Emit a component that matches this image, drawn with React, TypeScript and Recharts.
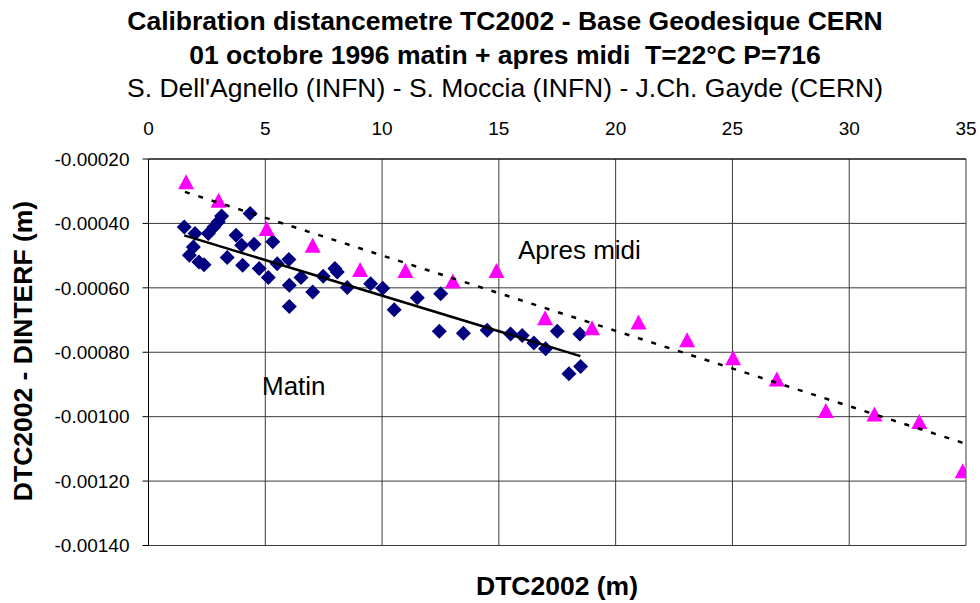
import { ScatterChart, Scatter, XAxis, YAxis, CartesianGrid } from 'recharts';

// Matin (diamonds) - distance in m, ecart in m
const matinDist = [
  1.53, 1.75, 1.92, 1.99, 2.16, 2.38, 2.56, 2.8, 2.99, 3.13, 3.37, 3.75, 3.99, 4.03, 4.35,
  4.52, 4.74, 5.13, 5.32, 5.51, 6.01, 6.03, 6.03, 6.53, 7.03, 7.48, 7.98, 8.08, 8.51, 9.51,
  10.03, 10.52, 11.51, 12.45, 12.51, 13.48, 14.5, 15.5, 16.0, 16.5, 17.0, 17.5, 18.0, 18.47, 18.5,
];
const matinEcart = [
  -0.000411, -0.000499, -0.000473, -0.000431, -0.00052, -0.000528, -0.000431, -0.000411,
  -0.000395, -0.000377, -0.000506, -0.000437, -0.000468, -0.00053, -0.000369, -0.000465,
  -0.00054, -0.000568, -0.000457, -0.000525, -0.000512, -0.000592, -0.000658, -0.000568,
  -0.000613, -0.000564, -0.00054, -0.000551, -0.000599, -0.000587, -0.000601, -0.000668,
  -0.000631, -0.000735, -0.000618, -0.000741, -0.000732, -0.000743, -0.000748, -0.000771,
  -0.000789, -0.000735, -0.000867, -0.000743, -0.000844,
];

// Apres midi (triangles)
const apmDist = [1.61, 3, 5.06, 7.03, 9.06, 11, 13.03, 14.9, 16.98, 18.99, 20.98, 23.06, 25.03, 26.9, 29, 31.08, 33, 34.86];
const apmEcart = [
  -0.000271, -0.000328, -0.000416, -0.000468, -0.000543, -0.000546, -0.000579, -0.000546,
  -0.000693, -0.000724, -0.000706, -0.000761, -0.000817, -0.000883, -0.000981, -0.000992,
  -0.001015, -0.001168,
];

// linear trendlines (end points)
const trendMatinDist = [1.53, 18.49];
const trendMatinEcart = [-0.000437, -0.000812];
const trendApmDist = [1.56, 34.9];
const trendApmEcart = [-0.000302, -0.001082];

const xTicks = [0, 5, 10, 15, 20, 25, 30, 35];
const yTicks = [-0.0002, -0.0004, -0.0006, -0.0008, -0.001, -0.0012, -0.0014];

const toPoints = (xs: number[], ys: number[]) => xs.map((x, i) => ({ x, y: ys[i] }));

const matinData = toPoints(matinDist, matinEcart);
const apmData = toPoints(apmDist, apmEcart);
const trendMatin = toPoints(trendMatinDist, trendMatinEcart);
const trendApm = toPoints(trendApmDist, trendApmEcart);

const FONT = '"Liberation Sans", Arial, sans-serif';

const Diamond = (props: any) => {
  const { cx, cy } = props;
  const r = 7.5;
  return (
    <polygon
      points={`${cx},${cy - r} ${cx + r},${cy} ${cx},${cy + r} ${cx - r},${cy}`}
      fill="#000080"
    />
  );
};

const Triangle = (props: any) => {
  const { cx, cy } = props;
  return (
    <polygon
      points={`${cx},${cy - 7.5} ${cx + 8},${cy + 7.5} ${cx - 8},${cy + 7.5}`}
      fill="#FF00FF"
    />
  );
};

const NoMarker = () => <g />;

export default function App() {
  const tickStyle = { fill: '#000', fontSize: 19, fontFamily: FONT };
  return (
    <div style={{ position: 'absolute', left: 0, top: 0, width: 980, height: 603, background: '#fff' }}>
      <ScatterChart
        width={980}
        height={603}
        margin={{ top: 119, right: 14, bottom: 57.5, left: 8.5 }}
      >
        <CartesianGrid stroke="#3a3a3a" strokeWidth={1} />
        <XAxis
          type="number"
          dataKey="x"
          orientation="top"
          height={40}
          domain={[0, 35]}
          ticks={xTicks}
          tickLine={false}
          tickSize={0}
          tickMargin={24}
          axisLine={{ stroke: '#000' }}
          tick={tickStyle}
          allowDataOverflow
        />
        <YAxis
          type="number"
          dataKey="y"
          width={140}
          domain={[-0.0014, -0.0002]}
          ticks={yTicks}
          tickFormatter={(v: number) => v.toFixed(5)}
          tickSize={6}
          tickMargin={13}
          tickLine={{ stroke: '#000' }}
          axisLine={{ stroke: '#000' }}
          tick={tickStyle}
          allowDataOverflow
        />
        <Scatter data={matinData} shape={Diamond} isAnimationActive={false} />
        <Scatter data={apmData} shape={Triangle} isAnimationActive={false} />
        <Scatter
          data={trendMatin}
          shape={NoMarker}
          line={{ stroke: '#000', strokeWidth: 2.5 }}
          isAnimationActive={false}
        />
        <Scatter
          data={trendApm}
          shape={NoMarker}
          line={{ stroke: '#000', strokeWidth: 2.5, strokeDasharray: '5 9' }}
          isAnimationActive={false}
        />
      </ScatterChart>
      <svg
        width={980}
        height={603}
        style={{ position: 'absolute', left: 0, top: 0, pointerEvents: 'none' }}
        fontFamily={FONT}
      >
        <text x={505} y={30} textAnchor="middle" fontSize={26.5} fontWeight="bold">
          Calibration distancemetre TC2002 - Base Geodesique CERN
        </text>
        <text x={505} y={63.5} textAnchor="middle" fontSize={26.5} fontWeight="bold" style={{ whiteSpace: 'pre' }}>
          {'01 octobre 1996 matin + apres midi  T=22°C P=716'}
        </text>
        <text x={505} y={97} textAnchor="middle" fontSize={26.5}>
          S. Dell'Agnello (INFN) - S. Moccia (INFN) - J.Ch. Gayde (CERN)
        </text>
        <text x={557} y={595} textAnchor="middle" fontSize={26.5} fontWeight="bold">
          DTC2002 (m)
        </text>
        <text
          x={32}
          y={351}
          textAnchor="middle"
          fontSize={26.5}
          fontWeight="bold"
          transform="rotate(-90 32 351)"
        >
          DTC2002 - DINTERF (m)
        </text>
        <text x={518} y={259} fontSize={26}>
          Apres midi
        </text>
        <text x={262} y={395} fontSize={26}>
          Matin
        </text>
      </svg>
    </div>
  );
}
